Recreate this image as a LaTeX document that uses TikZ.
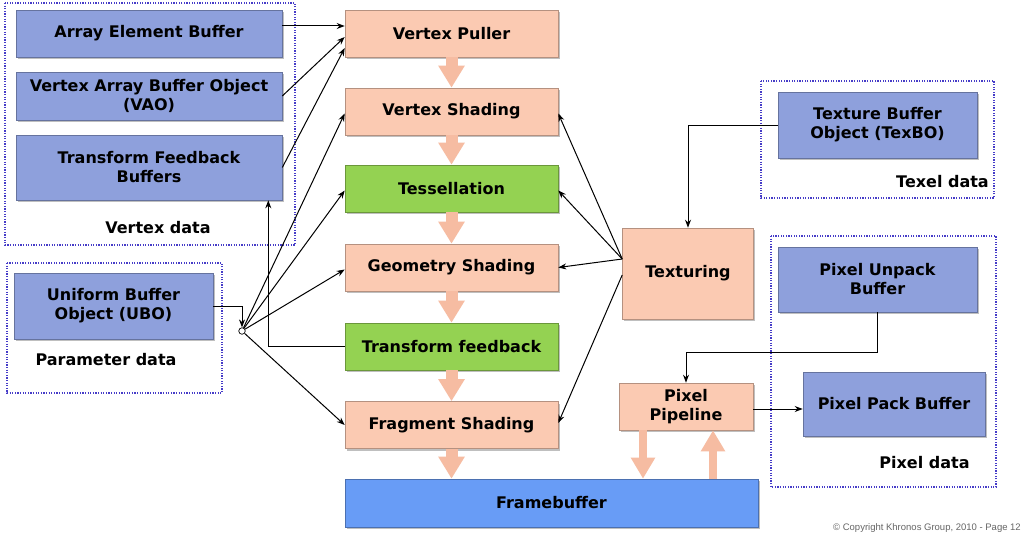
\documentclass[tikz,border=0pt]{standalone}
\usepackage{fontspec}
\setmainfont{DejaVu Sans}
\newfontfamily\cpfont{Liberation Sans}
\usetikzlibrary{arrows.meta,shadows,calc}
\definecolor{bufblue}{RGB}{142,160,220}
\definecolor{salm}{RGB}{251,202,178}
\definecolor{grn}{RGB}{148,210,82}
\definecolor{fbblue}{RGB}{104,156,246}
\definecolor{fatc}{RGB}{246,188,162}
\definecolor{grpc}{RGB}{70,60,200}
\begin{document}
\begin{tikzpicture}[x=1pt,y=-1pt,
  bx/.style={draw=#1!72!black, line width=0.6pt, fill=#1,
    font=\fontsize{16}{19}\selectfont\bfseries, align=center, inner sep=0pt,
    drop shadow={shadow xshift=1.5pt, shadow yshift=-2pt, opacity=0.45, fill=black!55}},
  lbl/.style={font=\fontsize{16}{19}\selectfont\bfseries, inner sep=0pt},
  grp/.style={draw=grpc, line width=1.3pt, dash pattern=on 1.2pt off 1.4pt},
  conn/.style={draw=black, line width=1pt, -{Stealth[length=8pt,width=6pt]}},
  fat/.style={draw=fatc, line width=12pt, -{Triangle[width=25pt,length=22pt]}},
  fatp/.style={draw=fatc, line width=8pt, -{Triangle[width=23pt,length=21pt]}}]
\useasboundingbox (0,0) rectangle (1023,535);
\fill[white] (0,0) rectangle (1023,535);

% groups
\draw[grp] (5,3) rectangle (295,245);
\draw[grp] (7,263) rectangle (222,393);
\draw[grp] (761,81) rectangle (994,198);
\draw[grp] (771,236) rectangle (996,487);

% buffers
\node[bx=bufblue, minimum width=266pt, minimum height=47pt] (aeb) at (149,33.5) {Array Element Buffer};
\node[bx=bufblue, minimum width=266pt, minimum height=48pt] (vao) at (149,96) {Vertex Array Buffer Object\\(VAO)};
\node[bx=bufblue, minimum width=266pt, minimum height=65pt] (tfb) at (149,167.5) {Transform Feedback\\Buffers};
\node[bx=bufblue, minimum width=199pt, minimum height=66pt] (ubo) at (113.5,306) {Uniform Buffer\\Object (UBO)};
\node[bx=bufblue, minimum width=199pt, minimum height=66pt] (tbo) at (877.5,125) {Texture Buffer\\Object (TexBO)};
\node[bx=bufblue, minimum width=199pt, minimum height=65pt] (pub) at (877.5,279.5) {Pixel Unpack\\Buffer};
\node[bx=bufblue, minimum width=182pt, minimum height=64pt] (ppb) at (894,404) {Pixel Pack Buffer};

% pipeline
\node[bx=salm, minimum width=213pt, minimum height=47pt] (vp) at (451.5,33.5) {Vertex Puller};
\node[bx=salm, minimum width=213pt, minimum height=47pt] (vs) at (451.5,111.5) {Vertex Shading};
\node[bx=grn, minimum width=213pt, minimum height=47pt] (tess) at (451.5,188.5) {Tessellation};
\node[bx=salm, minimum width=213pt, minimum height=47pt] (geo) at (451.5,267.5) {Geometry Shading};
\node[bx=grn, minimum width=213pt, minimum height=47pt] (tf) at (451.5,346.5) {Transform feedback};
\node[bx=salm, minimum width=213pt, minimum height=47pt] (frag) at (451.5,425) {Fragment Shading};
\node[bx=fbblue, minimum width=413pt, minimum height=48pt] (fb) at (551.5,503) {Framebuffer};
\node[bx=salm, minimum width=131pt, minimum height=91pt] (tex) at (688,273.5) {Texturing};
\node[bx=salm, minimum width=134pt, minimum height=47pt] (ppl) at (686,406.5) {Pixel\\Pipeline};

% labels
\node[lbl] (lv) at (158,228) {Vertex data};
\node[lbl] (lp) at (106,360) {Parameter data};
\node[lbl] (lt) at (942.5,182) {Texel data};
\node[lbl] (lx) at (924.5,463) {Pixel data};
\node[font=\fontsize{9.5}{11}\selectfont\cpfont, text=black!60, anchor=east, inner sep=0pt] (cp) at (1021,528) {\textcopyright{} Copyright Khronos Group, 2010 - Page 12};

% fat arrows
\draw[fat] (vp.south) -- (vs.north);
\draw[fat] (vs.south) -- (tess.north);
\draw[fat] (tess.south) -- (geo.north);
\draw[fat] (geo.south) -- (tf.north);
\draw[fat] (tf.south) -- (frag.north);
\draw[fat] (frag.south) -- (frag.south |- fb.north);
\draw[fatp] ([xshift=-43pt]ppl.south) -- ([xshift=-43pt]ppl.south |- fb.north);
\draw[fatp] ([xshift=27pt]ppl.south |- fb.north) -- ([xshift=27pt]ppl.south);

% hub
\node[draw, fill=white, circle, minimum size=6.5pt, inner sep=0pt, line width=0.7pt] (hub) at (242,331) {};

% connectors
\draw[conn] ([yshift=7.5pt]aeb.east) -- ([yshift=7.5pt]vp.west);
\draw[conn] (vao.east) -- ([yshift=-3.5pt]vp.west);
\draw[conn] (tfb.east) -- ([yshift=-14.5pt]vp.west);
\draw[conn] (ubo.east) -| (hub.north);
\draw[conn] (hub) -- ([yshift=-2pt]vs.west);
\draw[conn] (hub) -- ([yshift=-2pt]tess.west);
\draw[conn] (hub) -- ([yshift=-2pt]geo.west);
\draw[conn] (hub) -- (frag.west);
\draw[conn] (tf.west) -| ([xshift=-14pt]tfb.south east);
\draw[conn] ([yshift=14.5pt]tex.west) -- ([yshift=-2pt]vs.east);
\draw[conn] ([yshift=14.5pt]tex.west) -- ([yshift=-2pt]tess.east);
\draw[conn] ([yshift=14.5pt]tex.west) -- (geo.east);
\draw[conn] ([yshift=-1.5pt]tex.west) -- ([yshift=2pt]frag.east);
\draw[conn] (tbo.west) -| (tex.north);
\draw[conn] (pub.south) -- ++(0,40) -| (ppl.north);
\draw[conn] ([yshift=-2.5pt]ppl.east) -- ([yshift=-2.5pt]ppl.east -| ppb.west);
\end{tikzpicture}
\end{document}
